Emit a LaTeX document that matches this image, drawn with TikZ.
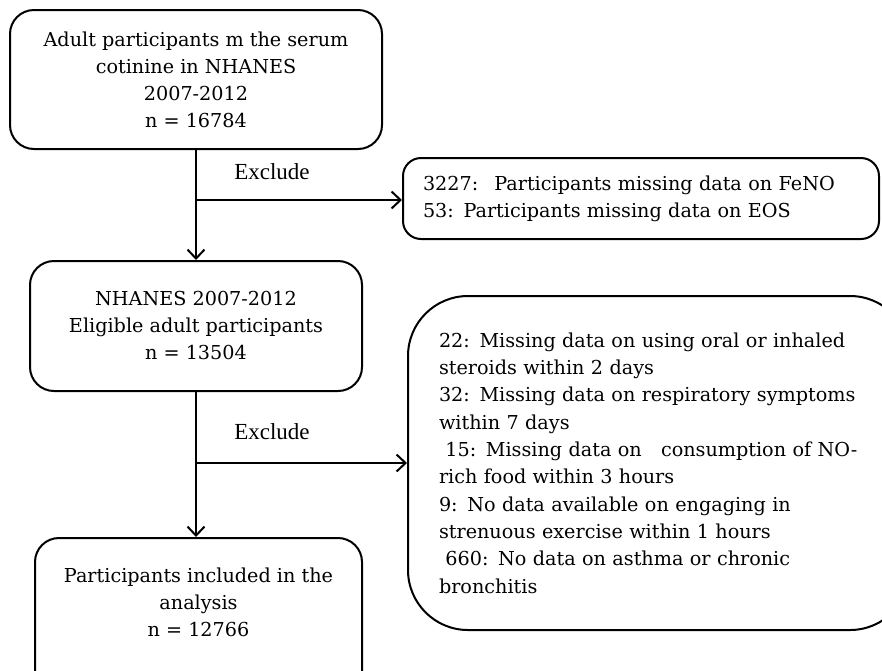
\documentclass[tikz,border=0pt]{standalone}
\usepackage{fontspec}
\setmainfont{DejaVu Serif}
\newfontfamily\exclfont{Liberation Serif}
\usetikzlibrary{arrows.meta, positioning}

\tikzset{
  flowbox/.style={draw, line width=2pt, rounded corners=24pt, align=center,
    inner sep=0pt, font=\fontsize{19.2}{27}\selectfont},
  exclbox/.style={draw, line width=2pt, rounded corners=18pt, align=left,
    inner ysep=0pt, font=\fontsize{19.2}{27.3}\selectfont},
  arr/.style={line width=2pt, -{Straight Barb[length=9pt,width=17pt,line width=2pt]}},
  exlabel/.style={font=\exclfont\fontsize{23}{27}\selectfont}
}

\begin{document}
\begin{tikzpicture}[x=1pt,y=-1pt]
        \useasboundingbox (0,0) rectangle (882,670);
        % Main boxes
        \node[flowbox, minimum width=372pt, minimum height=139pt] (cotinine) at (196,79.5)
          {Adult participants m the serum\\cotinine in NHANES\\2007-2012\\n = 16784};
        \node[flowbox, minimum width=332pt, minimum height=130pt] (eligible) at (196,326)
          {NHANES 2007-2012\\Eligible adult participants\\n = 13504};
        \node[flowbox, minimum width=327pt, minimum height=163pt] (included) at (198.5,619.5)
          {Participants included in the\\analysis\\n = 12766\\ \strut};
        % Exclusion boxes
        \node[exclbox, inner xsep=20pt, text width=436pt, minimum height=81pt] (exclA) at (641,198.5)
          {3227:~ Participants missing data on FeNO\\53: Participants missing data on EOS};
        \node[exclbox, rounded corners=60pt, inner xsep=31pt, text width=440pt, minimum height=334pt] (exclB) at (659,463)
          {22: Missing data on using oral or inhaled\\steroids within 2 days\\
           32: Missing data on respiratory symptoms\\within 7 days\\
           ~15: Missing data on ~ consumption of NO-\\rich food within 3 hours\\
           9: No data available on engaging in\\strenuous exercise within 1 hours\\
           ~660: No data on asthma or chronic\\bronchitis};
        % Junctions
        \coordinate (jA) at (196,200);
        \coordinate (jB) at (196,463);
        % Arrows
        \draw[arr] (cotinine) -- (eligible);
        \draw[arr] (eligible.south) -- (eligible.south |- included.north);
        \draw[arr] (jA) -- (exclA.west |- jA);
        \draw[arr] (jB) -- (exclB.west |- jB);
        % Labels
        \node[exlabel] (exA) at (272,172) {Exclude};
        \node[exlabel] (exB) at (272,432) {Exclude};
    \end{tikzpicture}
\end{document}
